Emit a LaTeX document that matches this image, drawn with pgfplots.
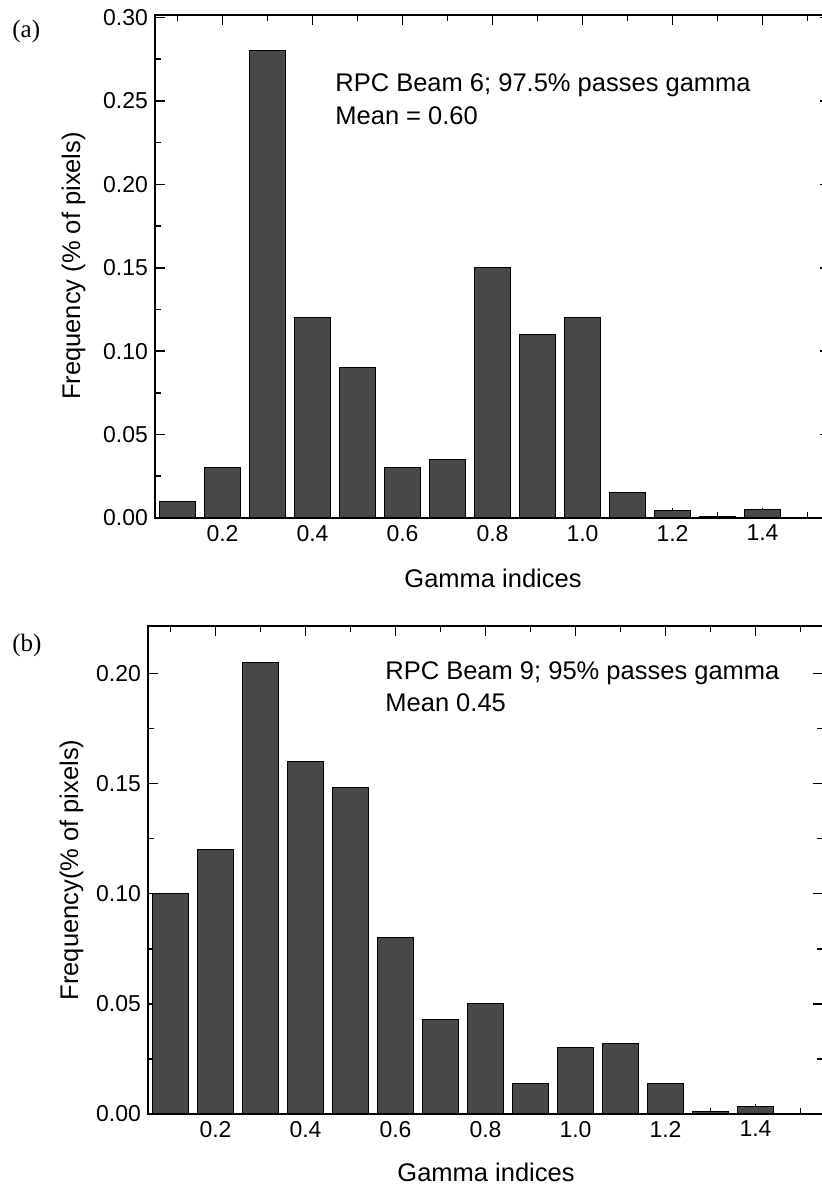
\documentclass[border=0pt]{standalone}
\usepackage{fontspec}
\setmainfont{Liberation Sans}
\newfontfamily\seriffont{Liberation Serif}
\usepackage{pgfplots}
\pgfplotsset{compat=1.18}
\definecolor{barfill}{RGB}{72,72,70}
\pgfplotsset{hist/.style={
  scale only axis, width=337.5pt,
  xmin=0.05, xmax=1.55, ymin=0,
  ybar, bar width=0.08,
  xtick={0.2,0.4,0.6,0.8,1.0,1.2,1.4},
  minor xtick={0.1,0.3,0.5,0.7,0.9,1.1,1.3,1.5},
  tick align=inside, major tick length=5pt, minor tick length=3pt,
  axis line style={line width=0.9pt},
  every tick/.style={line width=0.8pt, black},
  tick label style={font=\fontsize{11.5}{13}\selectfont},
  /pgf/number format/assume math mode=true,
  scaled y ticks=false,
  xticklabel style={/pgf/number format/.cd, fixed, fixed zerofill, precision=1},
  yticklabel style={/pgf/number format/.cd, fixed, fixed zerofill, precision=2},
}}
\begin{document}
\begin{tikzpicture}
\useasboundingbox (0,0) rectangle (411pt,594pt);
\clip (0,0) rectangle (411pt,594pt);
% panel (a)
\begin{axis}[hist, at={(77.5pt,335pt)}, anchor=south west, height=251.5pt, ymax=0.3015,
  ytick={0,0.05,0.10,0.15,0.20,0.25,0.30},
  minor ytick={0.025,0.075,0.125,0.175,0.225,0.275}]
\addplot[fill=barfill, draw=black, line width=0.5pt] coordinates {(0.1,0.010) (0.2,0.030) (0.3,0.280) (0.4,0.120) (0.5,0.090) (0.6,0.030) (0.7,0.035) (0.8,0.150) (0.9,0.110) (1.0,0.120) (1.1,0.015) (1.2,0.0045) (1.3,0.001) (1.4,0.005)};
\end{axis}
% panel (b)
\begin{axis}[hist, at={(74pt,37pt)}, anchor=south west, height=244pt, ymax=0.2215,
  ytick={0,0.05,0.10,0.15,0.20},
  minor ytick={0.025,0.075,0.125,0.175}]
\addplot[fill=barfill, draw=black, line width=0.5pt] coordinates {(0.1,0.100) (0.2,0.120) (0.3,0.205) (0.4,0.160) (0.5,0.148) (0.6,0.080) (0.7,0.043) (0.8,0.050) (0.9,0.014) (1.0,0.030) (1.1,0.032) (1.2,0.014) (1.3,0.001) (1.4,0.0035)};
\end{axis}
% texts
\node[anchor=base west, inner sep=0, font=\seriffont\fontsize{12.5}{14}\selectfont] at (6pt,575pt) {(a)};
\node[anchor=base west, inner sep=0, font=\seriffont\fontsize{12.5}{14}\selectfont] at (6pt,268pt) {(b)};
\node[anchor=base west, inner sep=0, font=\fontsize{12.75}{15}\selectfont] at (167.5pt,548pt) {RPC Beam 6; 97.5\% passes gamma};
\node[anchor=base west, inner sep=0, font=\fontsize{12.75}{15}\selectfont] at (167.5pt,531.5pt) {Mean = 0.60};
\node[anchor=base west, inner sep=0, font=\fontsize{12.75}{15}\selectfont] at (192.5pt,254pt) {RPC Beam 9; 95\% passes gamma};
\node[anchor=base west, inner sep=0, font=\fontsize{12.75}{15}\selectfont] at (192.5pt,238pt) {Mean 0.45};
\node[anchor=base, inner sep=0, font=\fontsize{12.75}{15}\selectfont] at (246.5pt,300pt) {Gamma indices};
\node[anchor=base, inner sep=0, font=\fontsize{12.75}{15}\selectfont] at (243pt,3pt) {Gamma indices};
\node[anchor=base, rotate=90, inner sep=0, font=\fontsize{12.75}{15}\selectfont] at (40pt,461pt) {Frequency (\% of pixels)};
\node[anchor=base, rotate=90, inner sep=0, font=\fontsize{12.75}{15}\selectfont] at (39pt,159pt) {Frequency(\% of pixels)};
\end{tikzpicture}
\end{document}
